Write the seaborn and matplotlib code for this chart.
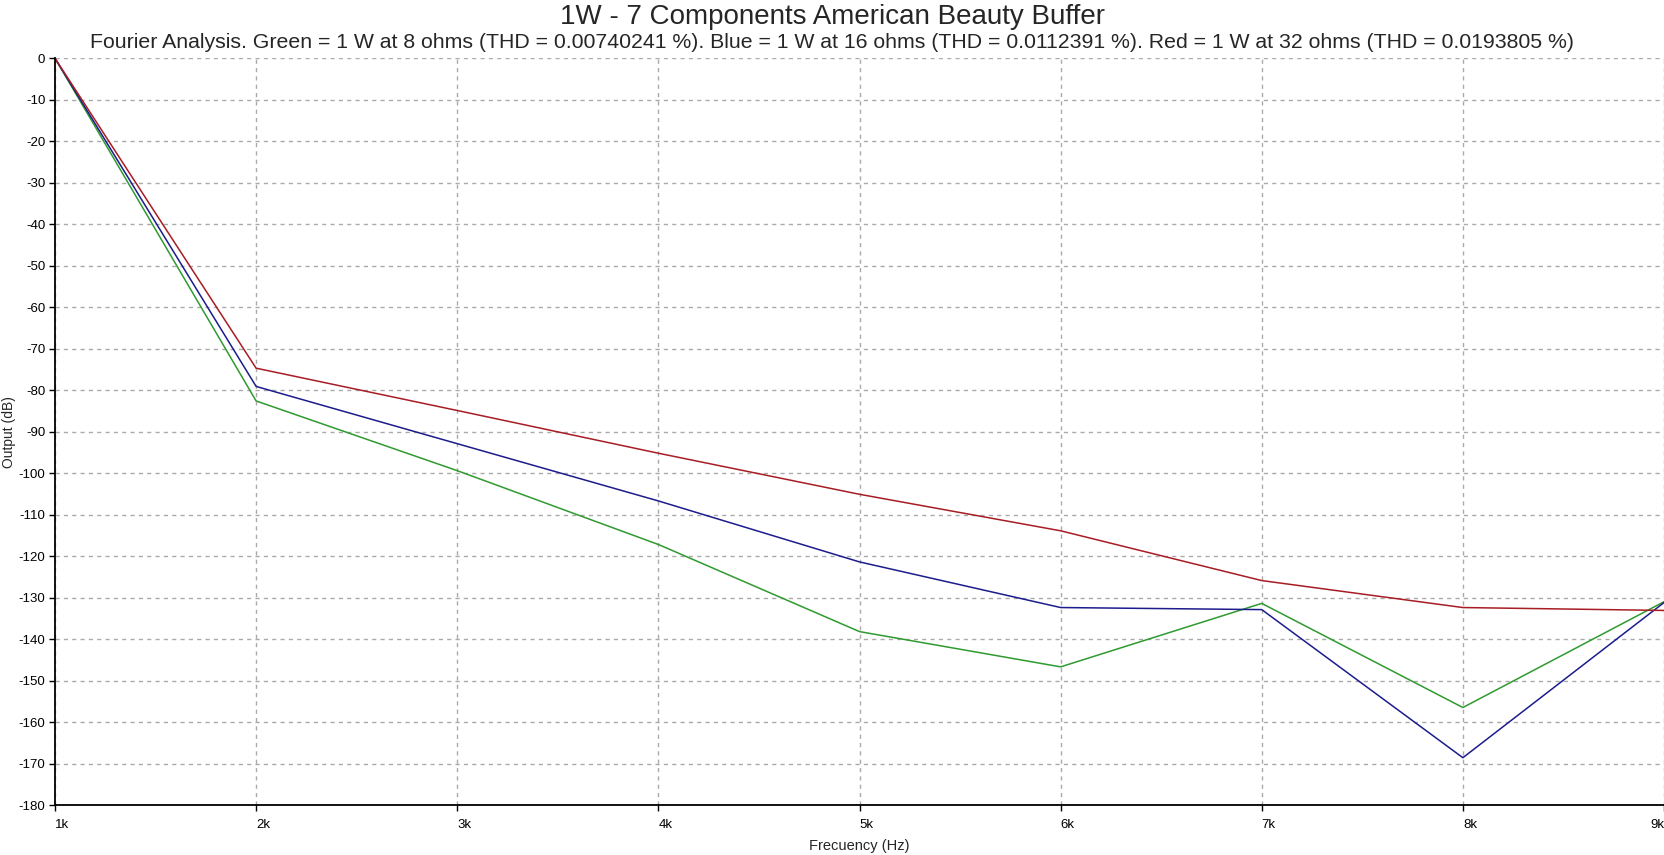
"""
Fourier analysis of the 7 component American Beauty Buffer at 1 W
"""

import numpy as np
import pandas as pd
import matplotlib
matplotlib.use("Agg")
import matplotlib.pyplot as plt
import seaborn as sns

# harmonic frequencies (Hz) and level of each harmonic (dB)
freq_hz = [1000, 2000, 3000, 4000, 5000, 6000, 7000, 8000, 9000]
tick_labels = ["1k", "2k", "3k", "4k", "5k", "6k", "7k", "8k", "9k"]

green_8ohm = [0, -82.6, -99.4, -117.2, -138.2, -146.7, -131.4, -156.5, -131.0]
blue_16ohm = [0, -79.1, -92.9, -106.7, -121.4, -132.4, -132.9, -168.6, -131.2]
red_32ohm = [0, -74.7, -84.9, -95.2, -105.1, -113.9, -125.9, -132.4, -133.1]

series_names = ["8 ohms", "16 ohms", "32 ohms"]
series_colors = ["#2f9a2f", "#1c1c8c", "#a81c24"]


def build_frame():
    rows = []
    for name, vals in zip(series_names, [green_8ohm, blue_16ohm, red_32ohm]):
        for f, v in zip(freq_hz, vals):
            rows.append({"freq": f, "db": v, "load": name})
    return pd.DataFrame(rows)


def main():
    df = build_frame()

    sns.set_style("white")
    plt.rcParams["font.family"] = ["Liberation Sans", "DejaVu Sans"]
    plt.rcParams["axes.unicode_minus"] = False

    fig = plt.figure(figsize=(16.65, 8.55), dpi=100)
    ax = fig.add_axes([55 / 1665, 1 - 805 / 855, 1609 / 1665, (805 - 58.3) / 855])

    sns.lineplot(data=df, x="freq", y="db", hue="load", hue_order=series_names,
                 palette=series_colors, linewidth=1.1, legend=False, ax=ax)

    ax.set_xlim(1000, 9000)
    ax.set_ylim(-180, 0)
    ax.set_xticks(freq_hz)
    ax.set_xticklabels(tick_labels)
    ax.set_yticks(np.arange(-180, 1, 10))
    ax.grid(True, color="#aaaaaa", linestyle=(0, (3, 3)), linewidth=1)

    for side in ["top", "right"]:
        ax.spines[side].set_visible(False)
    for side in ["left", "bottom"]:
        ax.spines[side].set_color("black")
        ax.spines[side].set_linewidth(1.3)

    ax.tick_params(axis="both", direction="out", length=4, width=1,
                   colors="black", labelsize=9.5, pad=3, bottom=True, left=True)
    ax.tick_params(axis="x", pad=6)
    for lbl in ax.get_xticklabels():
        lbl.set_horizontalalignment("left")
    ax.get_xticklabels()[-1].set_horizontalalignment("right")

    ax.set_xlabel("Frecuency (Hz)", fontsize=10.5, labelpad=6)
    ax.set_ylabel("Output (dB)", fontsize=10)
    ax.yaxis.set_label_coords(-39 / 1609, 0.5)

    fig.text(0.5, 1 - 17 / 855, "1W - 7 Components American Beauty Buffer",
             ha="center", va="center", fontsize=20)
    fig.text(0.5, 1 - 42 / 855,
             "Fourier Analysis. Green = 1 W at 8 ohms (THD = 0.00740241 %). "
             "Blue = 1 W at 16 ohms (THD = 0.0112391 %). "
             "Red = 1 W at 32 ohms (THD = 0.0193805 %)",
             ha="center", va="center", fontsize=15.3)

    fig.savefig("out.png", dpi=100, facecolor="white")


if __name__ == "__main__":
    main()
